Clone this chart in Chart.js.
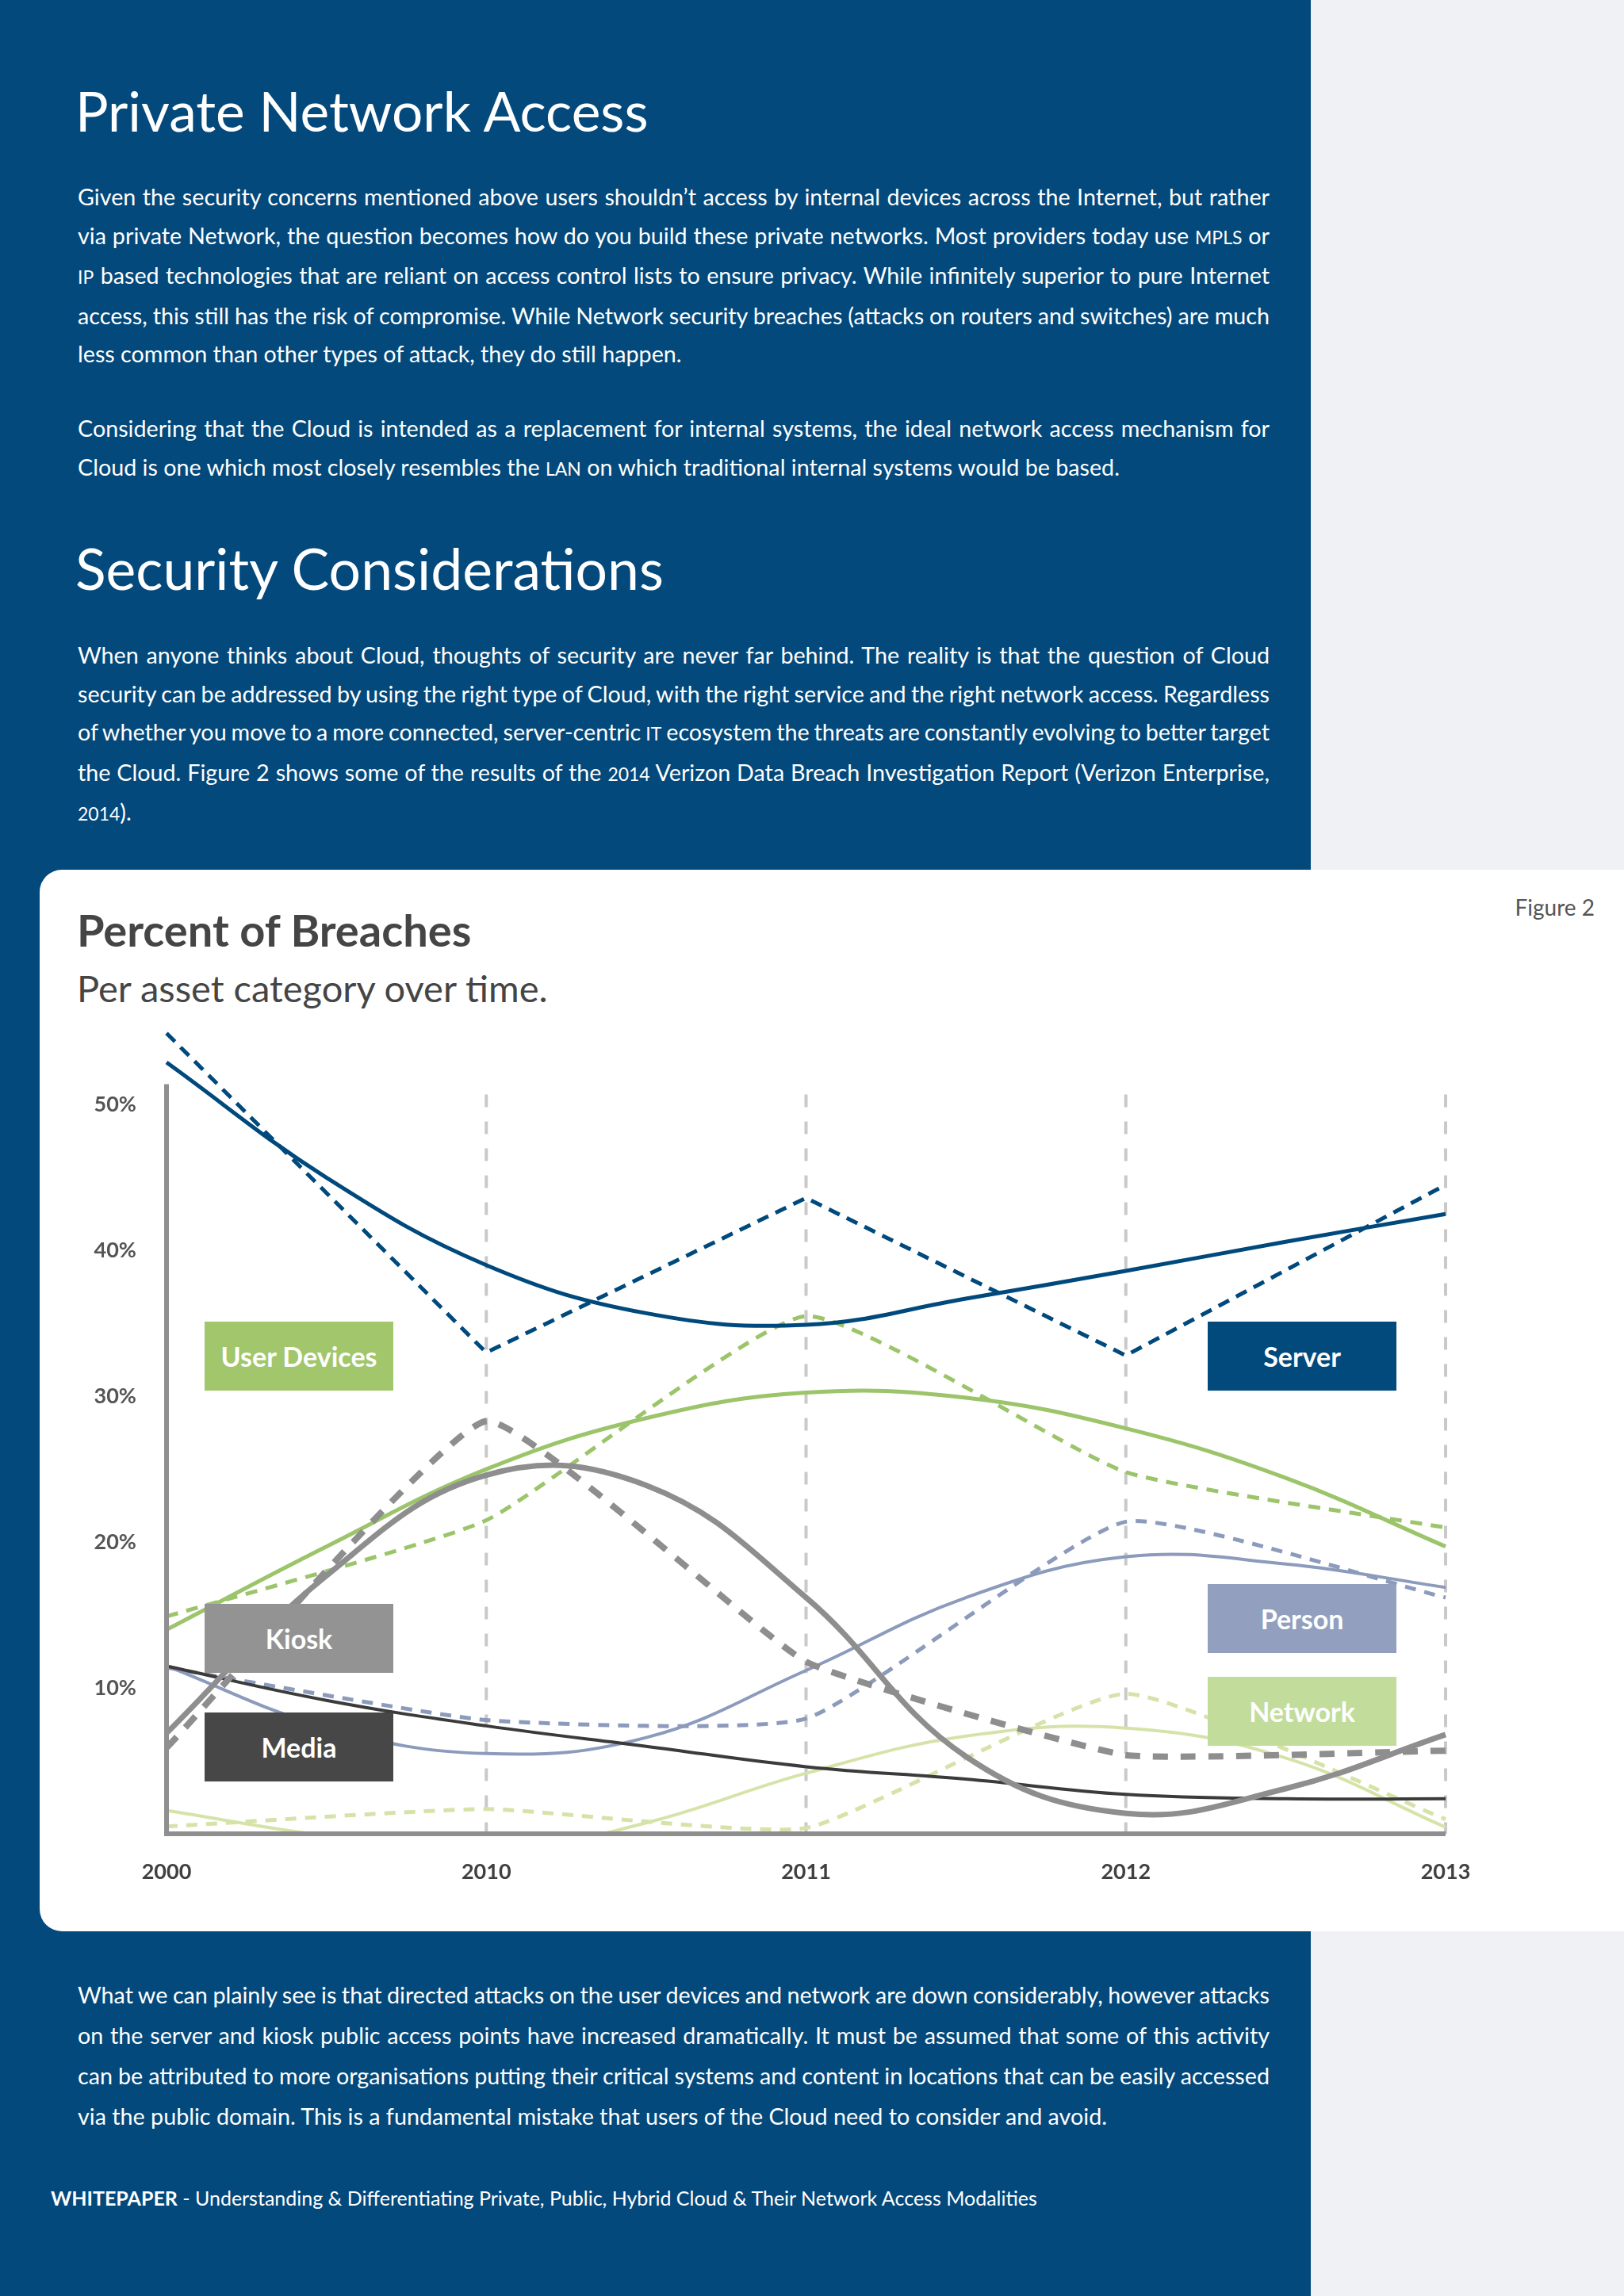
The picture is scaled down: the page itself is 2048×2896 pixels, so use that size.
<!DOCTYPE html>
<html>
<head>
<meta charset="utf-8">
<script src="https://cdn.jsdelivr.net/npm/chart.js@4.4.1/dist/chart.umd.min.js"></script>
<style>
  html, body { margin: 0; padding: 0; }
  body { width: 2048px; height: 2896px; position: relative; overflow: hidden; background: #f0f1f4; font-family: 'Lato', sans-serif; }
  #blue { position: absolute; left: 0; top: 0; width: 1653px; height: 2896px; background: #03497c; }
  .h1 { position: absolute; left: 95px; font-size: 71px; line-height: 71px; color: #fff; white-space: nowrap; }
  .p { position: absolute; left: 98px; width: 1503px; font-size: 28.7px; line-height: 48.5px; color: #fff; }
  .ln { white-space: nowrap; }
  .sc { font-size: 0.8em; }
  #card { position: absolute; left: 50px; top: 1097px; width: 2100px; height: 1339px; background: #fff; border-radius: 28px; }
  #chartTitle { position: absolute; left: 97px; top: 1145px; font-size: 56px; line-height: 56px; font-weight: bold; color: #454545; white-space: nowrap; }
  #chartSub { position: absolute; left: 97px; top: 1223px; font-size: 47px; line-height: 47px; color: #454545; white-space: nowrap; }
  #fig { position: absolute; right: 37px; top: 1130px; font-size: 28px; line-height: 28px; color: #555; }
  #chart { position: absolute; left: 100px; top: 1260px; }
  .tag { position: absolute; width: 238px; height: 87px; line-height: 87px; text-align: center; color: #fff; font-weight: bold; font-size: 34px; }
  #foot { position: absolute; left: 64px; top: 2757px; font-size: 25px; line-height: 30px; color: #fff; white-space: nowrap; }
</style>
</head>
<body>
<div id="blue"></div>

<div class="h1" style="top:104px;font-size:69.5px">Private Network Access</div>
<div class="p" style="top:224px">
  <div class="ln j"><span>Given the security concerns mentioned above users shouldn’t access by internal devices across the Internet, but rather</span></div>
  <div class="ln j"><span>via private Network, the question becomes how do you build these private networks. Most providers today use <span class="sc">MPLS</span> or</span></div>
  <div class="ln j"><span><span class="sc">IP</span> based technologies that are reliant on access control lists to ensure privacy. While infinitely superior to pure Internet</span></div>
  <div class="ln j"><span>access, this still has the risk of compromise. While Network security breaches (attacks on routers and switches) are much</span></div>
  <div class="ln"><span>less common than other types of attack, they do still happen.</span></div>
</div>
<div class="p" style="top:516px">
  <div class="ln j"><span>Considering that the Cloud is intended as a replacement for internal systems, the ideal network access mechanism for</span></div>
  <div class="ln"><span>Cloud is one which most closely resembles the <span class="sc">LAN</span> on which traditional internal systems would be based.</span></div>
</div>

<div class="h1" style="top:681px;font-size:71.5px">Security Considerations</div>
<div class="p" style="top:802px">
  <div class="ln j"><span>When anyone thinks about Cloud, thoughts of security are never far behind. The reality is that the question of Cloud</span></div>
  <div class="ln j"><span>security can be addressed by using the right type of Cloud, with the right service and the right network access. Regardless</span></div>
  <div class="ln j"><span>of whether you move to a more connected, server-centric <span class="sc">IT</span> ecosystem the threats are constantly evolving to better target</span></div>
  <div class="ln j"><span>the Cloud. Figure 2 shows some of the results of the <span class="sc">2014</span> Verizon Data Breach Investigation Report (Verizon Enterprise,</span></div>
  <div class="ln"><span><span class="sc">2014</span>).</span></div>
</div>

<div id="card"></div>
<div id="fig">Figure 2</div>
<div id="chartTitle">Percent of Breaches</div>
<div id="chartSub">Per asset category over time.</div>
<canvas id="chart" width="1800" height="1120"></canvas>

<div class="tag" style="left:258px;top:1667px;background:#a1c66b">User Devices</div>
<div class="tag" style="left:258px;top:2023px;background:#939393">Kiosk</div>
<div class="tag" style="left:258px;top:2160px;background:#474747">Media</div>
<div class="tag" style="left:1523px;top:1667px;background:#02497c">Server</div>
<div class="tag" style="left:1523px;top:1998px;background:#929fbe">Person</div>
<div class="tag" style="left:1523px;top:2115px;background:#c2dc9b">Network</div>

<div class="p" style="top:2491px;line-height:51px">
  <div class="ln j"><span>What we can plainly see is that directed attacks on the user devices and network are down considerably, however attacks</span></div>
  <div class="ln j"><span>on the server and kiosk public access points have increased dramatically. It must be assumed that some of this activity</span></div>
  <div class="ln j"><span>can be attributed to more organisations putting their critical systems and content in locations that can be easily accessed</span></div>
  <div class="ln"><span>via the public domain. This is a fundamental mistake that users of the Cloud need to consider and avoid.</span></div>
</div>

<div id="foot"><b>WHITEPAPER</b> - Understanding &amp; Differentiating Private, Public, Hybrid Cloud &amp; Their Network Access Modalities</div>

<script>
// categories and tick labels
const years = ['2000', '2010', '2011', '2012', '2013'];
const yearPos = [0, 1, 2, 3, 4];
const trendPos = [0, 0.5, 1, 1.5, 2, 2.5, 3, 3.5, 4];
const yTickValues = [10, 20, 30, 40, 50];
const yTickLabels = ['10%', '20%', '30%', '40%', '50%'];

// dashed = yearly values, solid = trend
const serverActual = [54.9, 33.0, 43.6, 32.8, 44.5];
const serverTrend = [52.9, 45.0, 39.0, 35.7, 34.9, 36.7, 38.6, 40.6, 42.5];
const userActual = [14.9, 21.5, 35.5, 24.8, 21.0];
const userTrend = [14.0, 19.7, 25.0, 28.5, 30.25, 29.9, 27.8, 24.4, 19.7];
const kioskActual = [5.9, 28.3, 11.8, 5.4, 5.7];
const kioskTrend = [6.9, 17.7, 24.6, 23.9, 16.2, 5.3, 1.4, 3.1, 6.8];
const mediaTrend = [11.5, 9.15, 7.4, 6.0, 4.6, 3.75, 2.7, 2.4, 2.4];
const personActual = [11.4, 7.8, 7.9, 21.4, 16.2];
const personTrend = [11.5, 7.3, 5.5, 6.6, 11.2, 16.2, 19.0, 18.5, 16.9];
const networkActual = [0.5, 1.7, 0.4, 9.6, 1.0];
const networkTrend = [1.6, -0.15, -1.3, 0.75, 4.15, 6.7, 7.25, 5.2, 0.45];

const pts = (xs, ys) => ys.map((v, i) => ({x: xs[i], y: v}));

function line(xs, ys, color, width, dash, tension) {
    return {
        data: pts(xs, ys),
        borderColor: color,
        borderWidth: width,
        borderDash: dash,
        tension: tension,
        pointRadius: 0,
        fill: false,
        clip: {left: 10, top: 40, right: 10, bottom: 0}
    };
}

const BLUE = '#00497c', GREEN = '#9cc46a', GREY = '#8e8e8e', DARK = '#3b3b3b', PERSON = '#8c9bbc', NET = '#d5e3a9';

/* draws dashed year lines and the two axis lines */
const frame = {
    id: 'frame',
    beforeDatasetsDraw(chart) {
        const ctx = chart.ctx, x = chart.scales.x, y = chart.scales.y;
        ctx.save();
        ctx.strokeStyle = '#c9c9c9';
        ctx.lineWidth = 4;
        ctx.setLineDash([16, 18]);
        for (let i = 1; i < yearPos.length; i++) {
            const px = x.getPixelForValue(yearPos[i]);
            ctx.beginPath();
            ctx.moveTo(px, y.getPixelForValue(50.7));
            ctx.lineTo(px, y.getPixelForValue(0));
            ctx.stroke();
        }
        ctx.restore();
    },
    afterDatasetsDraw(chart) {
        const ctx = chart.ctx, x = chart.scales.x, y = chart.scales.y;
        const x0 = x.getPixelForValue(0), y0 = y.getPixelForValue(0);
        ctx.save();
        ctx.strokeStyle = '#8f8f8f';
        ctx.lineWidth = 6;
        ctx.beginPath();
        ctx.moveTo(x0, y.getPixelForValue(51.4));
        ctx.lineTo(x0, y0);
        ctx.lineTo(x.getPixelForValue(4), y0);
        ctx.stroke();
        ctx.restore();
    }
};

Chart.defaults.font.family = 'Lato';

new Chart(document.getElementById('chart'), {
    type: 'line',
    data: {
        datasets: [
            line(yearPos, serverActual, BLUE, 5, [15, 10], 0),
            line(trendPos, serverTrend, BLUE, 5, [], 0.4),
            line(trendPos, kioskTrend, GREY, 7, [], 0.4),
            line(yearPos, kioskActual, GREY, 8, [19, 16], 0.12),
            line(trendPos, userTrend, GREEN, 5, [], 0.4),
            line(yearPos, userActual, GREEN, 5, [15, 11], 0.15),
            line(trendPos, mediaTrend, DARK, 4, [], 0.4),
            line(trendPos, personTrend, PERSON, 4, [], 0.4),
            line(yearPos, personActual, PERSON, 5, [14, 11], 0.15),
            line(trendPos, networkTrend, NET, 4, [], 0.4),
            line(yearPos, networkActual, NET, 5, [14, 11], 0.15)
        ]
    },
    options: {
        responsive: false,
        animation: false,
        layout: { padding: { top: 23, right: 77, bottom: 0, left: 0 } },
        elements: { line: { capBezierPoints: false } },
        plugins: { legend: { display: false }, tooltip: { enabled: false } },
        scales: {
            x: {
                type: 'linear',
                min: 0,
                max: 4,
                grid: { display: false, drawTicks: false },
                border: { display: false },
                afterBuildTicks: s => { s.ticks = yearPos.map(v => ({value: v})); },
                afterFit: s => { s.height = 67; s.paddingLeft = 0; s.paddingRight = 0; },
                ticks: {
                    padding: 32,
                    color: '#404040',
                    font: { size: 27, weight: 'bold' },
                    callback: v => years[yearPos.indexOf(v)]
                }
            },
            y: {
                min: 0,
                max: 56,
                grid: { display: false, drawTicks: false },
                border: { display: false },
                afterBuildTicks: s => { s.ticks = yTickValues.map(v => ({value: v})); },
                afterFit: s => { s.width = 110; s.paddingTop = 0; s.paddingBottom = 0; },
                ticks: {
                    padding: 38,
                    color: '#555',
                    font: { size: 27, weight: 'bold' },
                    callback: v => yTickLabels[yTickValues.indexOf(v)]
                }
            }
        }
    },
    plugins: [frame]
});

// stretch full lines of the paragraphs to the column width
document.querySelectorAll('.ln.j').forEach(el => {
    const span = el.firstElementChild;
    const spaces = (span.textContent.match(/ /g) || []).length;
    const w = el.parentElement.clientWidth - span.getBoundingClientRect().width;
    if (spaces) el.style.wordSpacing = (w / spaces) + 'px';
});
</script>
</body>
</html>
